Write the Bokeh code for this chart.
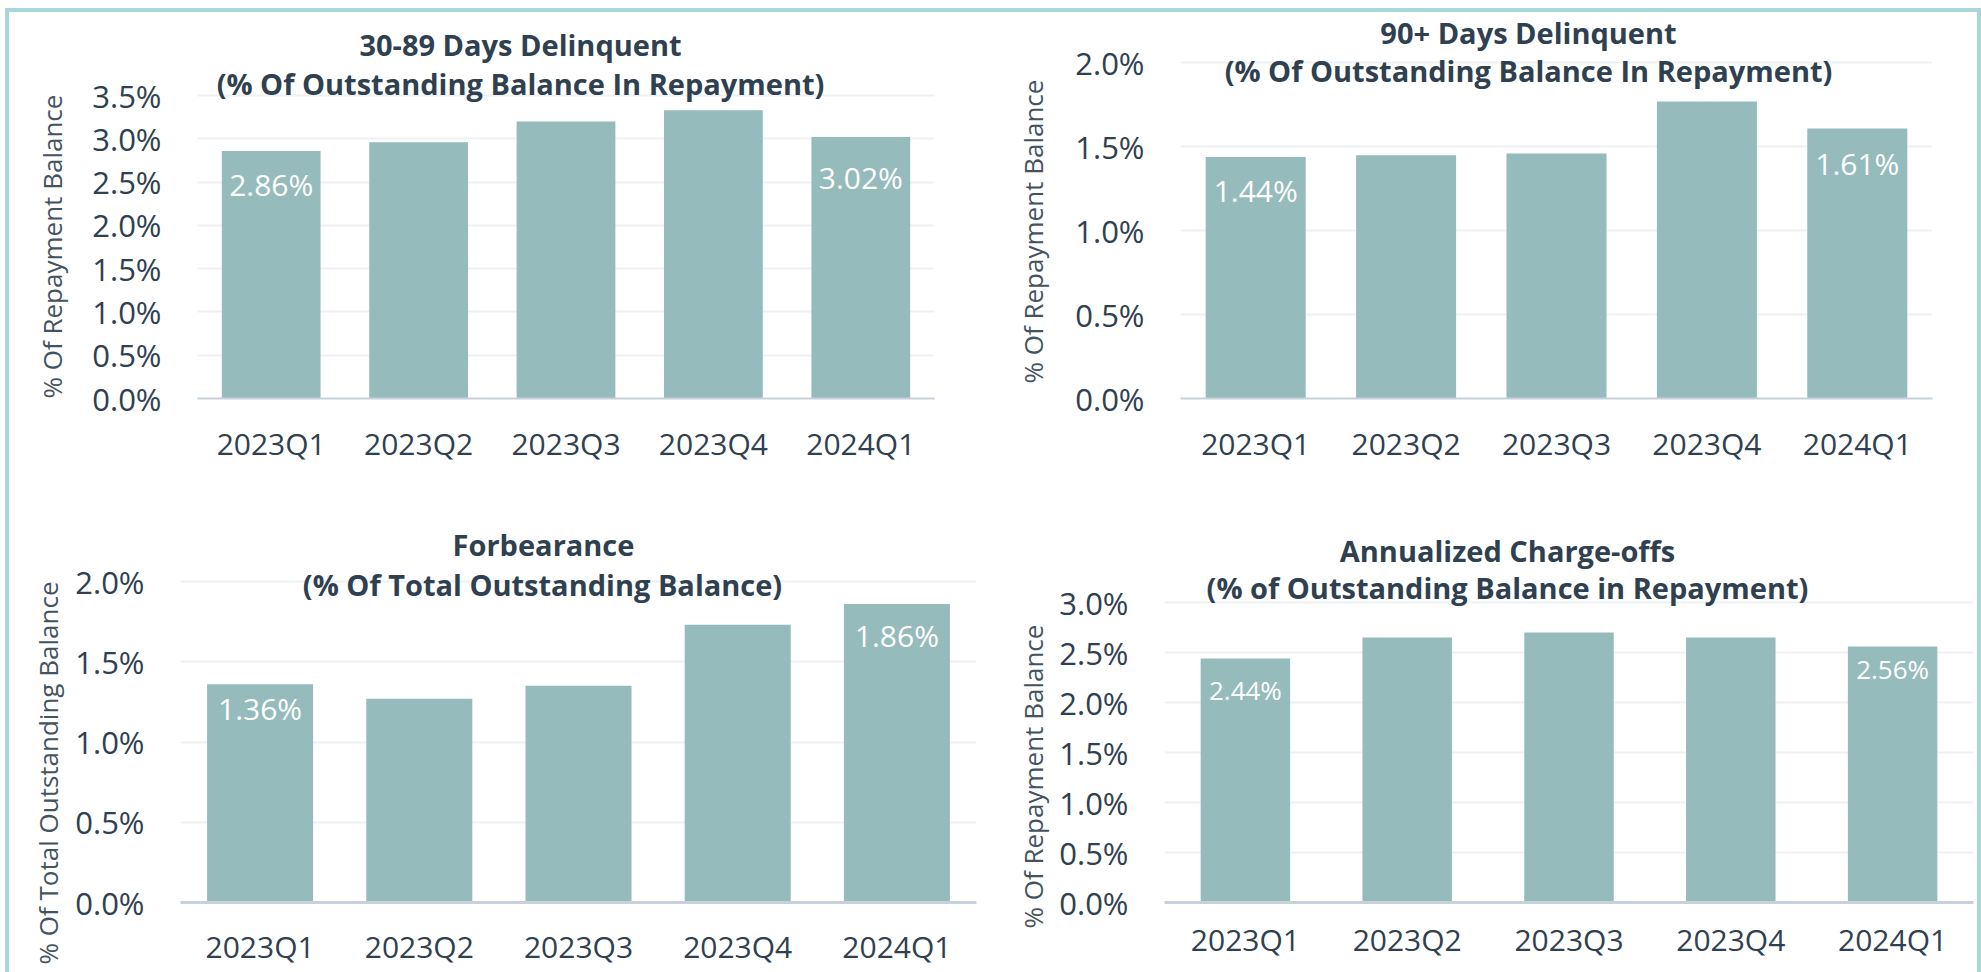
from bokeh.plotting import figure
from bokeh.models import Range1d, FactorRange, FixedTicker, PrintfTickFormatter, Label, Title
from bokeh.layouts import row, column
from bokeh.embed import file_html
from bokeh.resources import INLINE
from bokeh.core.properties import value

# ---------------- data ----------------
quarters = ["2023Q1", "2023Q2", "2023Q3", "2023Q4", "2024Q1"]
dlq_30_89 = [2.86, 2.96, 3.20, 3.33, 3.02]
dlq_90_plus = [1.44, 1.45, 1.46, 1.77, 1.61]
forbearance = [1.36, 1.27, 1.35, 1.73, 1.86]
charge_offs = [2.44, 2.65, 2.70, 2.65, 2.56]

ticks_30_89 = [0.0, 0.5, 1.0, 1.5, 2.0, 2.5, 3.0, 3.5]
ticks_90_plus = [0.0, 0.5, 1.0, 1.5, 2.0]
ticks_forbearance = [0.0, 0.5, 1.0, 1.5, 2.0]
ticks_charge_offs = [0.0, 0.5, 1.0, 1.5, 2.0, 2.5, 3.0]

title_30_89 = ["30-89 Days Delinquent", "(% Of Outstanding Balance In Repayment)"]
title_90_plus = ["90+ Days Delinquent", "(% Of Outstanding Balance In Repayment)"]
title_forbearance = ["Forbearance", "(% Of Total Outstanding Balance)"]
title_charge_offs = ["Annualized Charge-offs", "(% of Outstanding Balance in Repayment)"]

ylabel_30_89 = "% Of Repayment Balance"
ylabel_90_plus = "% Of Repayment  Balance"
ylabel_forbearance = "% Of Total Outstanding Balance"
ylabel_charge_offs = "% Of Repayment Balance"

# ---------------- style ----------------
BAR = "#95bbbd"
TXT = "#2f4050"
AXT = "#44535f"
GRID = "#edf1f5"
BASE = "#c6d1db"
BORDER = "#a9d7d9"
FONT = "Open Sans"

# geometry in page pixels: figure (x0, y0, w, h); frame (left, right, top gridline, bottom)
geo_tl = dict(fig=(9, 12, 981, 478), frame=(197, 934, 95, 398), bar_w=0.67,
              t1=(520, 43.5), t2=(520, 83), yl_off=0, yl_stand=37,
              lab_off=[34, 40], lab_size=30, base_w=2, xstand=18)
geo_tr = dict(fig=(990, 12, 987, 478), frame=(1180, 1932, 63, 402), bar_w=0.665,
              t1=(1528, 32), t2=(1528, 71), yl_off=15, yl_stand=41,
              lab_off=[34, 35], lab_size=30, base_w=2, xstand=18)
geo_bl = dict(fig=(9, 490, 981, 482), frame=(180, 976, 581, 902), bar_w=0.666,
              t1=(543, 544), t2=(542, 584), yl_off=-62, yl_stand=11,
              lab_off=[24, 32], lab_size=30, base_w=3, xstand=17)
geo_br = dict(fig=(990, 490, 987, 482), frame=(1164, 1973, 604, 909), bar_w=0.553,
              t1=(1507, 551), t2=(1507, 589), yl_off=-26, yl_stand=9,
              lab_off=[31, 22], lab_size=26, base_w=3, xstand=10)


def panel(values, ticks, titles, ylabel, g):
    fx0, fy0, W, H = g["fig"]
    L, R, Tg, B = g["frame"]
    T = fy0 + 2  # frame top
    ymax = ticks[-1]
    yend = ymax * (B - T) / (B - Tg)
    p = figure(x_range=FactorRange(*quarters), y_range=Range1d(0, yend),
               width=W, height=H, output_backend="svg", toolbar_location=None,
               min_border_left=L - fx0, min_border_right=fx0 + W - R,
               min_border_top=T - fy0, min_border_bottom=fy0 + H - B)
    p.outline_line_color = None
    p.background_fill_color = "white"
    p.border_fill_color = "white"

    p.vbar(x=quarters, top=values, width=g["bar_w"], fill_color=BAR, line_color=None)

    # y axis
    p.yaxis.ticker = FixedTicker(ticks=ticks)
    p.yaxis.formatter = PrintfTickFormatter(format="%.1f%%")
    p.yaxis.axis_line_color = None
    p.yaxis.major_tick_line_color = None
    p.yaxis.minor_tick_line_color = None
    p.yaxis.major_label_standoff = 30
    p.yaxis.major_label_text_font = FONT
    p.yaxis.major_label_text_font_size = "31px"
    p.yaxis.major_label_text_color = TXT
    p.ygrid.ticker = FixedTicker(ticks=ticks)
    p.ygrid.grid_line_color = GRID
    p.ygrid.grid_line_width = 2
    p.xgrid.grid_line_color = None

    # y axis title
    p.add_layout(Title(text=ylabel, align="left", offset=g["yl_off"], standoff=g["yl_stand"],
                       vertical_align="middle", text_font=FONT, text_font_size="26px",
                       text_font_style="normal", text_color=AXT), "left")

    # x axis
    p.xaxis.axis_line_color = BASE
    p.xaxis.axis_line_width = g["base_w"]
    p.xaxis.major_tick_line_color = None
    p.xaxis.minor_tick_line_color = None
    p.xaxis.major_label_standoff = g["xstand"]
    p.xaxis.major_label_text_font = FONT
    p.xaxis.major_label_text_font_size = "30px"
    p.xaxis.major_label_text_color = TXT

    n = len(quarters)
    xs = lambda px: (px - L) / (R - L) * n
    ys = lambda py: (B - py) / (B - Tg) * ymax

    for txt, (cx, cy) in zip(titles, [g["t1"], g["t2"]]):
        p.add_layout(Label(x=xs(cx), y=ys(cy), text=txt, text_align="center",
                           text_baseline="middle", text_font=FONT, text_font_size="29px",
                           text_font_style="bold", text_color=TXT))

    # value labels on first and last bars
    p.text(x=[quarters[0], quarters[-1]], y=[values[0], values[-1]],
           text=[f"{values[0]:.2f}%", f"{values[-1]:.2f}%"], y_offset=g["lab_off"],
           text_align="center", text_baseline="middle", text_color="white",
           text_font=value(FONT), text_font_size=f"{g['lab_size']}px")
    return p


p1 = panel(dlq_30_89, ticks_30_89, title_30_89, ylabel_30_89, geo_tl)
p2 = panel(dlq_90_plus, ticks_90_plus, title_90_plus, ylabel_90_plus, geo_tr)
p3 = panel(forbearance, ticks_forbearance, title_forbearance, ylabel_forbearance, geo_bl)
p4 = panel(charge_offs, ticks_charge_offs, title_charge_offs, ylabel_charge_offs, geo_br)

layout = column(row(p1, p2), row(p3, p4),
                styles={"border-top": f"4px solid {BORDER}",
                        "border-left": f"4px solid {BORDER}",
                        "border-right": f"4px solid {BORDER}",
                        "margin-left": "5px",
                        "margin-top": "8px"})

open("out.html", "w").write(file_html(layout, INLINE))
